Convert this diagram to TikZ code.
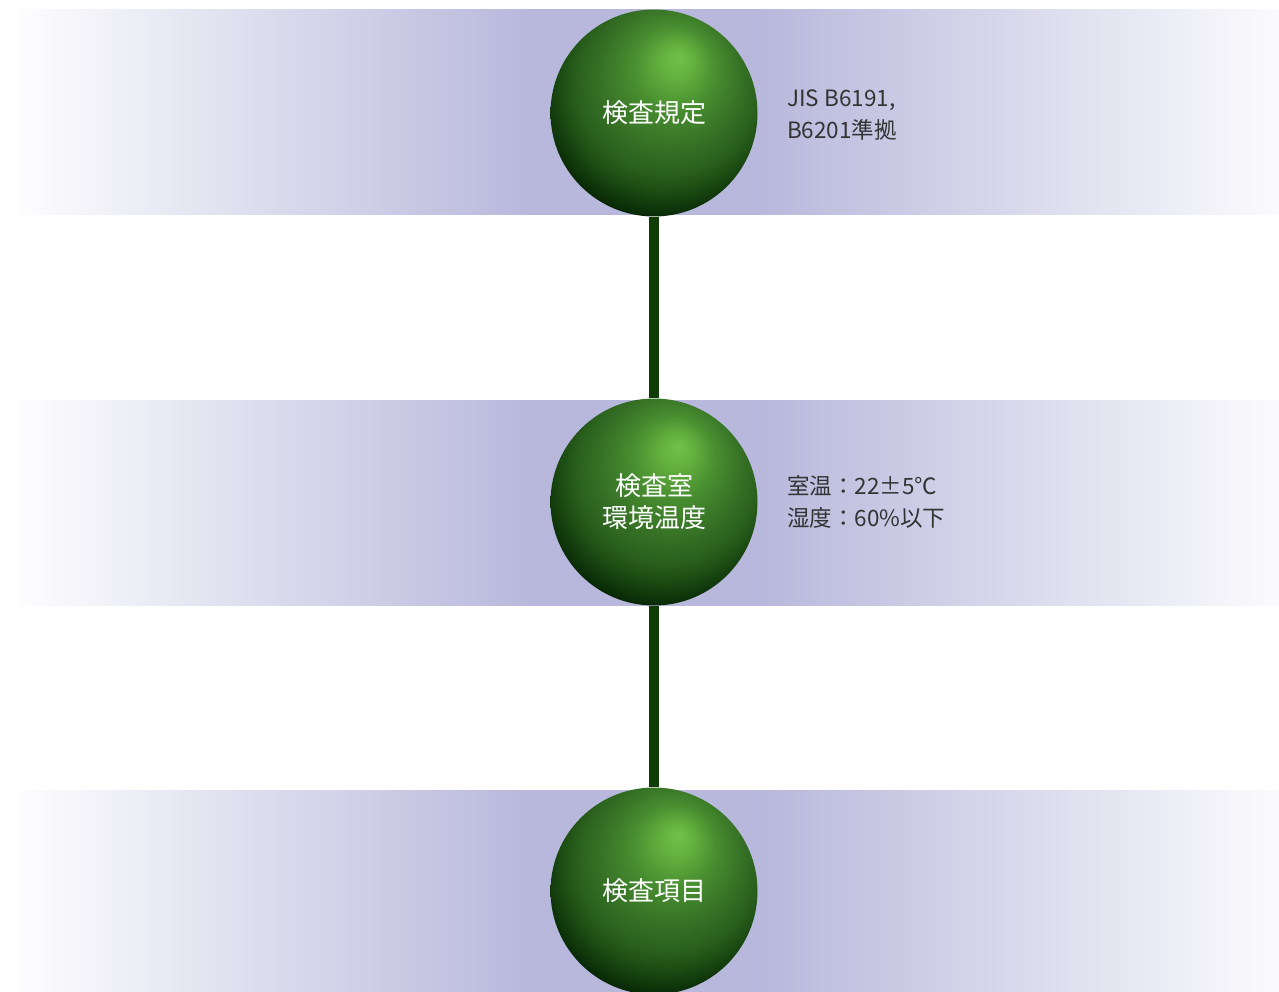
\documentclass[tikz,border=0pt]{standalone}
\usepackage{fontspec}
\newfontfamily\jp{Noto Sans CJK JP}
\definecolor{bandc}{RGB}{184,184,220}
\definecolor{bandl}{RGB}{253,253,254}
\definecolor{bandr}{RGB}{251,251,253}
\definecolor{linkc}{RGB}{16,60,6}
\definecolor{sidetext}{RGB}{51,51,51}
\definecolor{gA}{RGB}{114,192,72}
\definecolor{gB}{RGB}{100,176,62}
\definecolor{gC}{RGB}{72,142,48}
\definecolor{gD}{RGB}{52,110,36}
\definecolor{gE}{RGB}{42,96,29}
\definecolor{gF}{RGB}{30,80,20}
\definecolor{gG}{RGB}{16,56,11}
\definecolor{gH}{RGB}{6,36,4}
\definecolor{gI}{RGB}{0,20,0}
\definecolor{gJ}{RGB}{0,16,0}
\pgfdeclareradialshading{greenball}{\pgfpoint{6bp}{13.5bp}}{%
  color(0bp)=(gA); color(4bp)=(gB); color(10bp)=(gC); color(18bp)=(gD);
  color(22bp)=(gE); color(25bp)=(gF); color(28.5bp)=(gG); color(31bp)=(gH);
  color(34bp)=(gI); color(38bp)=(gJ); color(50bp)=(gJ)}
\pgfdeclarehorizontalshading{bandsh}{100bp}{%
  color(0bp)=(bandl); color(25bp)=(bandl); color(45.28bp)=(bandc);
  color(54.4bp)=(bandc); color(75bp)=(bandr); color(100bp)=(bandr)}
\tikzset{
  ball/.style={circle, minimum size=207pt, inner sep=0pt, shading=greenball,
    text=white, align=center, font=\jp\fontsize{26}{32}\selectfont},
  sidenote/.style={anchor=west, align=left, text=sidetext, inner sep=0pt,
    font=\jp\fontsize{22.5}{32}\selectfont},
  band/.style={shading=bandsh},
  link/.style={draw=linkc, line width=10pt}
}
\begin{document}
\begin{tikzpicture}[x=1pt,y=-1pt]
\useasboundingbox (0,0) rectangle (1279,992);
\fill[white] (0,0) rectangle (1279,992);
\shade[band] (19,10) rectangle (1279,215);
\shade[band] (19,400) rectangle (1279,605);
\shade[band] (19,790) rectangle (1279,996);
\node[ball] (b1) at (654,113) {検査規定};
\node[ball] (b2) at (654,502) {検査室\\環境温度};
\node[ball] (b3) at (654,891) {検査項目};
\draw[link] (b1.south) -- (b2.north);
\draw[link] (b2.south) -- (b3.north);
\node[sidenote] (t1) at (787,115) {JIS B6191,\\B6201準拠};
\node[sidenote] (t2) at (787,502) {室温：22±5℃\\湿度：60\%以下};
\end{tikzpicture}
\end{document}
